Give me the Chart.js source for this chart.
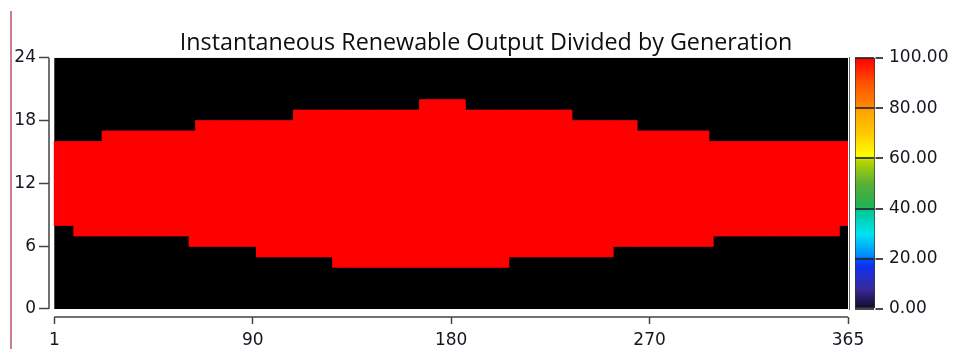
<!DOCTYPE html>
<html>
<head>
<meta charset="utf-8">
<script src="https://cdn.jsdelivr.net/npm/chart.js@4.4.1/dist/chart.umd.min.js"></script>
<style>
  html, body { margin: 0; padding: 0; background: #fff; overflow: hidden; }
  #wrap { position: relative; width: 954px; height: 349px; overflow: hidden; }
  #edge { position: absolute; left: 10px; top: 11px; bottom: 0; width: 2px; background: #c98088; z-index: 2; }
  #main { position: absolute; left: 0; top: 0; }
  #scale { position: absolute; left: 849px; top: 0; }
</style>
</head>
<body>
<div id="wrap">
  <div id="edge"></div>
  <canvas id="main" width="972" height="349"></canvas>
  <canvas id="scale" width="105" height="349"></canvas>
</div>
<script>
// hours with output: first day of each step + hour
const riseFromDay = [1, 10, 63, 94, 129, 210, 258, 304, 362];
const riseHour = [8, 7, 6, 5, 4, 5, 6, 7, 8];
const setFromDay = [1, 23, 66, 111, 169, 190, 239, 269, 302];
const setHour = [16, 17, 18, 19, 20, 19, 18, 17, 16];
const dayCount = 365;
const litValue = 100;

const xTickValues = [0.5, 91.75, 183, 274.25, 365.5];
const xTickLabels = ['1', '90', '180', '270', '365'];
const yTickValues = [0, 6, 12, 18, 24];
const scaleTickValues = [0, 20, 40, 60, 80, 100];

// colour scale (value -> colour)
const scaleStops = [0, 8, 17, 20, 21, 30, 39, 41, 50, 59, 61, 70, 79, 81, 90, 100];
const scaleColors = ['#0c0c24', '#3a2a9a', '#1030f0', '#0050ff', '#0088ff', '#00e4f0', '#00c898', '#22b050',
  '#5ab035', '#b4d400', '#ffff00', '#ffc800', '#ffa400', '#ff8400', '#ff5200', '#ff0000'];

function stepValue(fromDays, values, day) {
  let v = values[0];
  fromDays.forEach((d, i) => { if (day >= d) v = values[i]; });
  return v;
}

function colorFor(value) {
  // only full output shows in this chart
  return scaleColors[scaleStops.indexOf(value)];
}

const litHours = [];
for (let d = 1; d <= dayCount; d++) {
  litHours.push({ x: d, y: [stepValue(riseFromDay, riseHour, d), stepValue(setFromDay, setHour, d)] });
}

Chart.defaults.font.family = 'DejaVu Sans';
Chart.defaults.font.size = 17;
Chart.defaults.color = '#161620';

const axisColor = '#444';

const plotFrame = {
  id: 'plotFrame',
  beforeDatasetsDraw(chart) {
    const { ctx, scales: { x, y } } = chart;
    const l = x.getPixelForValue(xTickValues[0]);
    const r = x.getPixelForValue(xTickValues[xTickValues.length - 1]);
    const t = y.getPixelForValue(yTickValues[yTickValues.length - 1]);
    const b = y.getPixelForValue(yTickValues[0]);
    ctx.save();
    ctx.fillStyle = '#000';
    ctx.fillRect(l, t, r - l, b - t);
    ctx.restore();
  },
  afterDraw(chart) {
    const { ctx, chartArea, scales: { x, y } } = chart;
    ctx.save();
    ctx.strokeStyle = axisColor;
    ctx.lineWidth = 1.5;
    ctx.beginPath();
    ctx.moveTo(chartArea.left, y.getPixelForValue(yTickValues[0]));
    ctx.lineTo(chartArea.left, y.getPixelForValue(yTickValues[yTickValues.length - 1]));
    ctx.moveTo(x.getPixelForValue(xTickValues[0]), chartArea.bottom);
    ctx.lineTo(x.getPixelForValue(xTickValues[xTickValues.length - 1]), chartArea.bottom);
    ctx.stroke();
    ctx.restore();
  }
};

new Chart(document.getElementById('main'), {
  type: 'bar',
  data: {
    datasets: [{
      data: litHours,
      backgroundColor: colorFor(litValue),
      borderWidth: 0,
      inflateAmount: 0.5,
      barPercentage: 1,
      categoryPercentage: 1
    }]
  },
  options: {
    responsive: false,
    animation: false,
    events: [],
    plugins: {
      legend: { display: false },
      tooltip: { enabled: false },
      title: {
        display: true,
        text: 'Instantaneous Renewable Output Divided by Generation',
        color: '#0e0e0e',
        font: { family: 'Open Sans', size: 23.3, weight: 'normal', lineHeight: 1.2 },
        padding: { top: 29, bottom: 1 }
      }
    },
    scales: {
      x: {
        type: 'linear',
        offset: false,
        min: -1.94,
        max: 365.5,
        afterBuildTicks: s => { s.ticks = xTickValues.map(v => ({ value: v })); },
        afterFit: s => { s.height = 32; },
        ticks: { autoSkip: false, maxRotation: 0, padding: 6, callback: (v, i) => xTickLabels[i] },
        grid: { offset: false, drawOnChartArea: false, tickLength: 7, tickColor: axisColor, tickWidth: 1.5 },
        border: { display: false }
      },
      y: {
        type: 'linear',
        min: -0.765,
        max: 24,
        afterBuildTicks: s => { s.ticks = yTickValues.map(v => ({ value: v })); },
        afterFit: s => { s.width = 49; },
        ticks: { padding: 3 },
        grid: { drawOnChartArea: false, tickLength: 10, tickColor: axisColor, tickWidth: 1.5 },
        border: { display: false }
      },
      // room for the colour scale on the right
      yRoom: {
        type: 'linear',
        position: 'right',
        afterFit: s => { s.width = 124; },
        ticks: { display: false },
        grid: { display: false },
        border: { display: false }
      }
    }
  },
  plugins: [plotFrame]
});

function scaleGradient(chart) {
  const { ctx, chartArea, scales } = chart;
  if (!chartArea) return scaleColors[0];
  const y = scales.y;
  const g = ctx.createLinearGradient(0, y.getPixelForValue(0), 0, y.getPixelForValue(100));
  scaleStops.forEach((s, i) => g.addColorStop(s / 100, scaleColors[i]));
  return g;
}

new Chart(document.getElementById('scale'), {
  type: 'bar',
  data: {
    labels: [''],
    datasets: [{
      data: [[scaleTickValues[0], scaleTickValues[scaleTickValues.length - 1]]],
      backgroundColor: c => scaleGradient(c.chart),
      borderColor: '#333',
      borderWidth: 1,
      borderSkipped: false,
      barPercentage: 1,
      categoryPercentage: 1
    }]
  },
  options: {
    responsive: false,
    animation: false,
    events: [],
    layout: { padding: { left: 6, top: 58, bottom: 40, right: 0 } },
    plugins: { legend: { display: false }, tooltip: { enabled: false } },
    scales: {
      x: { display: false },
      y: {
        position: 'right',
        min: 0,
        max: 100,
        afterBuildTicks: s => { s.ticks = scaleTickValues.map(v => ({ value: v })); },
        afterFit: s => { s.width = 79; },
        ticks: { padding: 6, callback: v => v.toFixed(2) },
        grid: { z: 1, color: 'rgba(40,40,40,0.85)', lineWidth: 2, tickLength: 8 },
        border: { display: true, color: '#333', width: 1.5 }
      }
    }
  }
});
</script>
</body>
</html>
